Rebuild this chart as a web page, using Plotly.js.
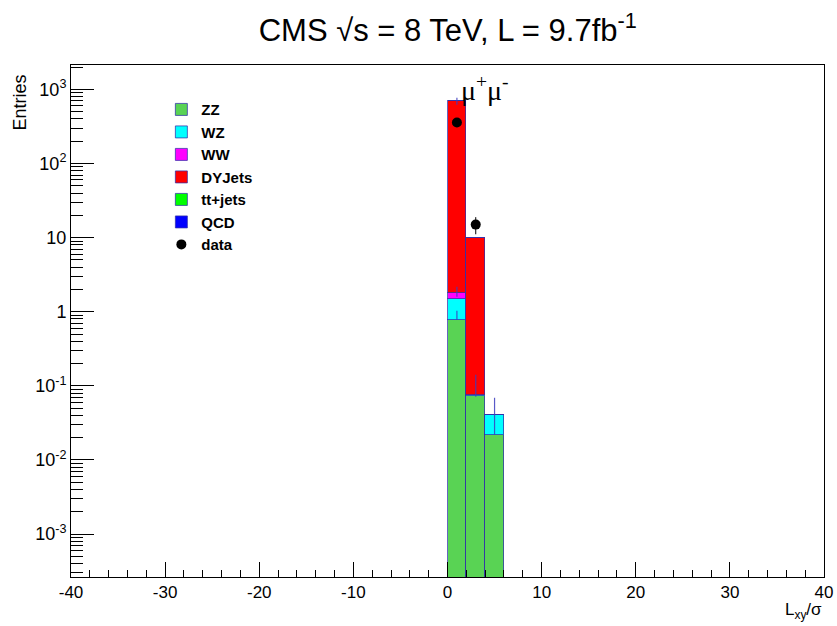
<!DOCTYPE html>
<html>
<head>
<meta charset="utf-8">
<script src="https://cdn.plot.ly/plotly-3.0.1.min.js"></script>
<style>html,body{margin:0;padding:0;background:#fff;}#chart{width:837px;height:626px;}</style>
</head>
<body>
<div id="chart"></div>
<script>
// Bin centres (bins of width 2 in Lxy/sigma)
const binCenters = [1, 3, 5];
const zz      = [0.78, 0.072, 0.0218];
const wz      = [0.72, 0.004, 0.018];
const ww      = [0.27, 0, 0];
const dyjets  = [693, 9.92, 0];
const ttjets  = [0, 0, 0];
const qcd     = [0, 0, 0];
const dataX   = [1, 3];
const dataY   = [359, 15];
const dataErr = [19, 3.9];
// MC statistical uncertainty markers
const mcErrX     = [1, 1, 1, 3, 5];
const mcErrY     = [695, 1.77, 0.78, 0.076, 0.040];
const mcErrPlus  = [75, 0.40, 0.25, 0.065, 0.029];
const mcErrMinus = [75, 0.18, 0.0, 0.005, 0.018];
const xTickVals = [-40, -30, -20, -10, 0, 10, 20, 30, 40];
const xTickText = ['-40', '-30', '-20', '-10', '0', '10', '20', '30', '40'];
const yTickVals = [1e-3, 1e-2, 1e-1, 1, 10, 100, 1000];
const yTickText = ['10<sup>-3</sup>', '10<sup>-2</sup>', '10<sup>-1</sup>', '1', '10', '10<sup>2</sup>', '10<sup>3</sup>'];

const outline = {color: 'rgba(50,50,170,0.75)', width: 1};
function bar(name, y, color) {
  return {type: 'bar', name: name, x: binCenters, y: y, width: 2,
          marker: {color: color, line: outline}, hoverinfo: 'name+y'};
}
const traces = [
  bar('ZZ', zz, '#59d354'),
  bar('WZ', wz, '#00ffff'),
  bar('WW', ww, '#ff00ff'),
  bar('DYJets', dyjets, '#ff0000'),
  bar('tt+jets', ttjets, '#00ff00'),
  bar('QCD', qcd, '#0000ff'),
  {type: 'scatter', mode: 'markers', name: 'mcerr', showlegend: false,
   x: mcErrX, y: mcErrY, marker: {size: 1, color: 'rgba(0,0,0,0)'},
   error_y: {type: 'data', symmetric: false, array: mcErrPlus, arrayminus: mcErrMinus,
             color: 'rgba(60,60,190,0.85)', thickness: 1.2, width: 0}},
  {type: 'scatter', mode: 'markers', name: 'data', x: dataX, y: dataY,
   marker: {color: '#000', size: 10},
   error_y: {type: 'data', array: dataErr, color: '#000', thickness: 1, width: 0}}
];

const layout = {
  width: 837, height: 626,
  margin: {l: 71, r: 13, t: 64.5, b: 49},
  paper_bgcolor: '#fff', plot_bgcolor: '#fff',
  barmode: 'stack', bargap: 0,
  font: {family: 'Liberation Sans, Arial, sans-serif', color: '#000', size: 16},
  title: {text: 'CMS \u221As = 8 TeV, L = 9.7fb<sup>-1</sup>', x: 0.535, xanchor: 'center',
          y: 0.952, yanchor: 'middle', font: {size: 31, family: 'Liberation Sans, Arial, sans-serif'}},
  xaxis: {range: [-40, 40], tickmode: 'array', tickvals: xTickVals, ticktext: xTickText,
          ticks: 'inside', ticklen: 15, tickcolor: '#000',
          showline: true, mirror: true, linecolor: '#000', linewidth: 1, showgrid: false, zeroline: false,
          tickfont: {size: 17},
          minor: {dtick: 2, tick0: 0, ticks: 'inside', ticklen: 7, tickcolor: '#000', showgrid: false}},
  yaxis: {type: 'log', range: [-3.58, 3.33], tickmode: 'array', tickvals: yTickVals, ticktext: yTickText,
          ticks: 'inside', ticklen: 23, tickcolor: '#000',
          showline: true, mirror: true, linecolor: '#000', linewidth: 1, showgrid: false, zeroline: false,
          tickfont: {size: 18},
          minor: {dtick: 'D1', ticks: 'inside', ticklen: 12, tickcolor: '#000', showgrid: false}},
  legend: {x: 0.12, y: 0.945, xanchor: 'left', yanchor: 'top', traceorder: 'normal',
           bgcolor: 'rgba(0,0,0,0)', font: {size: 15, family: 'Liberation Sans, Arial, sans-serif', weight: 'bold'},
           itemwidth: 30, tracegroupgap: 0},
  annotations: [
    {text: '\u03BC<sup>+</sup>\u03BC<sup>-</sup>', xref: 'x', yref: 'paper', x: 4.0, y: 0.955,
     yanchor: 'middle', showarrow: false, font: {size: 28, family: 'Liberation Serif, Times New Roman, serif'}},
    {text: 'Entries', xref: 'paper', yref: 'paper', x: -0.068, y: 0.985, xanchor: 'center', yanchor: 'top',
     textangle: -90, showarrow: false, font: {size: 18}},
    {text: 'L<sub>xy</sub>/\u03C3', xref: 'paper', yref: 'paper', x: 1.0, y: -0.092, xanchor: 'right',
     yanchor: 'bottom', showarrow: false, font: {size: 17}}
  ]
};
Plotly.newPlot('chart', traces, layout, {displayModeBar: false});
</script>
</body>
</html>
